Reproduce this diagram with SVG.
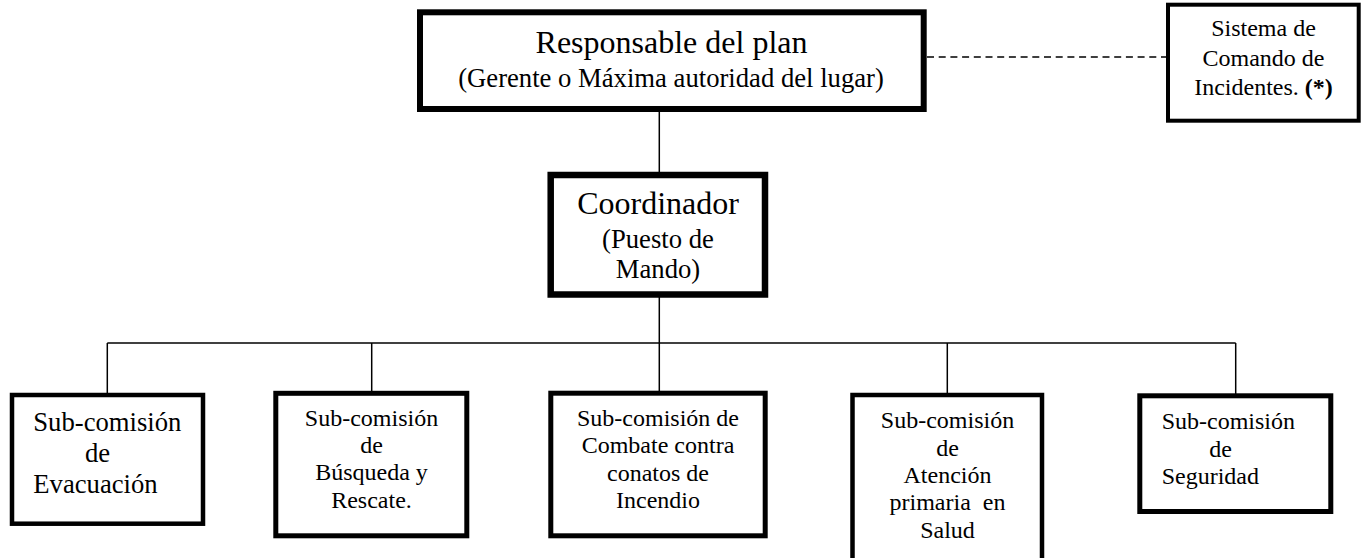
<svg xmlns="http://www.w3.org/2000/svg" width="1369" height="558" viewBox="0 0 1369 558">
<style>
text{font-family:"Liberation Serif","Times New Roman",serif;fill:#000}
.box{fill:#fff;stroke:#000}
.c{text-anchor:middle}
.f32{font-size:32px}
.f27{font-size:26.67px}
.f24{font-size:24px}
.ln{stroke:#000;stroke-width:1.5;fill:none}
.dash{stroke:#000;stroke-width:1.5;fill:none;stroke-dasharray:7 4.7}
</style>
<rect width="1369" height="558" fill="#fff"/>
<g id="connectors">
<line class="ln" x1="659.3" y1="112" x2="659.3" y2="172"/>
<line class="ln" x1="659.3" y1="297" x2="659.3" y2="391"/>
<line class="ln" x1="107.3" y1="343" x2="1235.7" y2="343"/>
<line class="ln" x1="107.3" y1="343" x2="107.3" y2="393"/>
<line class="ln" x1="371.7" y1="343" x2="371.7" y2="391"/>
<line class="ln" x1="947.3" y1="343" x2="947.3" y2="393"/>
<line class="ln" x1="1235.7" y1="343" x2="1235.7" y2="394"/>
<line class="dash" x1="927" y1="57" x2="1166" y2="57"/>
</g>
<g id="responsable">
<rect class="box" x="420" y="12.3" width="503.7" height="96.7" stroke-width="6"/>
<text class="c f32" x="671.5" y="53.3">Responsable del plan</text>
<text class="c f27" x="671" y="87.3">(Gerente o Máxima autoridad del lugar)</text>
</g>
<g id="sistema">
<rect class="box" x="1168" y="4.7" width="190.7" height="116" stroke-width="4"/>
<text class="c f24" x="1263.5" y="36">Sistema de</text>
<text class="c f24" x="1263.5" y="66.2">Comando de</text>
<text class="c f24" x="1263.5" y="95">Incidentes. <tspan font-weight="bold">(*)</tspan></text>
</g>
<g id="coordinador">
<rect class="box" x="550.7" y="175" width="214.3" height="119.5" stroke-width="6.5"/>
<text class="c f32" x="658" y="214.3">Coordinador</text>
<text class="c f27" x="658" y="248.3">(Puesto de</text>
<text class="c f27" x="658" y="278.3">Mando)</text>
</g>
<g id="evacuacion">
<rect class="box" x="12" y="395" width="191" height="128.7" stroke-width="4.5"/>
<text class="f27" x="33.3" y="430.7">Sub-comisión</text>
<text class="f27" x="85" y="461.7">de</text>
<text class="f27" x="33.3" y="492.7">Evacuación</text>
</g>
<g id="busqueda">
<rect class="box" x="275.8" y="393.3" width="191" height="142.5" stroke-width="5"/>
<text class="c f24" x="371.5" y="426">Sub-comisión</text>
<text class="c f24" x="371.5" y="453">de</text>
<text class="c f24" x="371.5" y="480.3">Búsqueda y</text>
<text class="c f24" x="371.5" y="508">Rescate.</text>
</g>
<g id="combate">
<rect class="box" x="550.8" y="393.2" width="214.4" height="142.6" stroke-width="5"/>
<text class="c f24" x="658" y="426">Sub-comisión de</text>
<text class="c f24" x="658" y="453.3">Combate contra</text>
<text class="c f24" x="658" y="480.7">conatos de</text>
<text class="c f24" x="658" y="508.3">Incendio</text>
</g>
<g id="salud">
<rect class="box" x="852.5" y="395" width="189.5" height="175" stroke-width="4.5"/>
<text class="c f24" x="947.5" y="428.3">Sub-comisión</text>
<text class="c f24" x="947.5" y="455.5">de</text>
<text class="c f24" x="947.5" y="482.7">Atención</text>
<text class="c f24" x="947.5" y="510" xml:space="preserve">primaria  en</text>
<text class="c f24" x="947.5" y="538.3">Salud</text>
</g>
<g id="seguridad">
<rect class="box" x="1139.8" y="395.8" width="191" height="115.7" stroke-width="5"/>
<text class="f24" x="1161.7" y="429.3">Sub-comisión</text>
<text class="f24" x="1209.3" y="456.7">de</text>
<text class="f24" x="1161.7" y="484">Seguridad</text>
</g>
</svg>
